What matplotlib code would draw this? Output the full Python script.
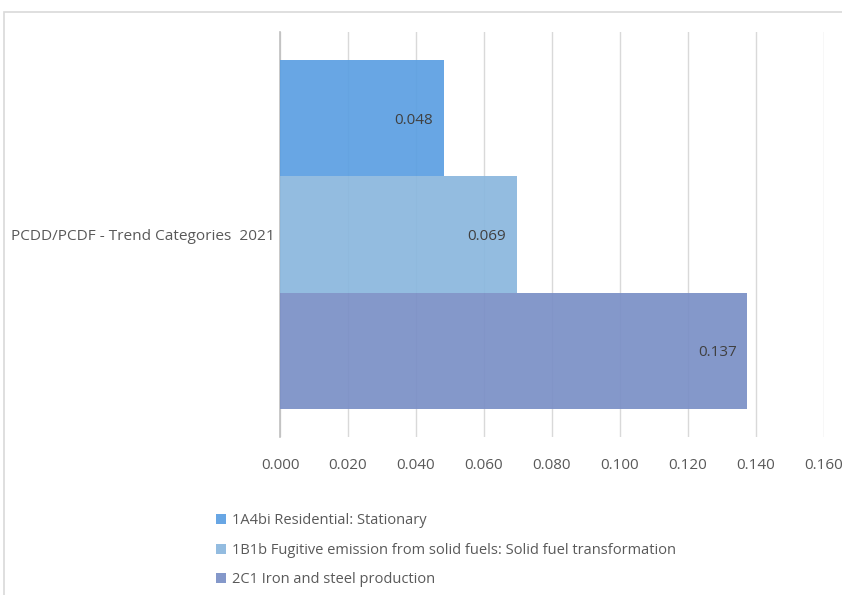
import matplotlib.pyplot as plt
from matplotlib.patches import Rectangle

# PCDD/PCDF trend categories, 2021
category = "PCDD/PCDF - Trend Categories  2021"
series = [
    "1A4bi Residential: Stationary",
    "1B1b Fugitive emission from solid fuels: Solid fuel transformation",
    "2C1 Iron and steel production",
]
values = [0.0483, 0.0697, 0.1376]
value_labels = ["0.048", "0.069", "0.137"]
colors = ["#5B9FE2", "#8AB7DE", "#7A8FC6"]
xticks = [0.000, 0.020, 0.040, 0.060, 0.080, 0.100, 0.120, 0.140, 0.160]

text_color = "#595959"
plt.rcParams["font.family"] = ["Open Sans", "DejaVu Sans"]

fig = plt.figure(figsize=(8.42, 5.95), dpi=100)

# chart frame
fig.patches.append(Rectangle((4 / 842, -0.1), 1.2, 1 - 12 / 595 + 0.1,
                             transform=fig.transFigure, fill=False,
                             edgecolor="#D9D9D9", linewidth=1.2))

ax = fig.add_axes([280 / 842, 1 - 437 / 595, (823.5 - 280) / 842, (437 - 32) / 595])

group = 0.86
h = group / len(values)
handles = []
for i, (name, v, lab, c) in enumerate(zip(series, values, value_labels, colors)):
    y = group / 2 - h / 2 - i * h
    b = ax.barh(y, v, height=h, color=c, alpha=0.92, label=name, zorder=3)
    handles.append(b)
    ax.text(v - 0.0032, y - 0.005, lab, ha="right", va="center",
            color="#404040", fontsize=11, zorder=4)

ax.set_xlim(0, 0.160)
ax.set_ylim(-0.5, 0.5)
ax.set_xticks(xticks)
ax.set_xticklabels([f"{t:.3f}" for t in xticks], color=text_color, fontsize=11)
ax.set_yticks([0])
ax.set_yticklabels([category], color=text_color, fontsize=11.05)
ax.tick_params(axis="x", length=0, pad=15)
ax.tick_params(axis="y", length=0, pad=4)
ax.grid(axis="x", color="#D9D9D9", linewidth=1, zorder=0)
for s in ["top", "right", "bottom"]:
    ax.spines[s].set_visible(False)
ax.spines["left"].set_color("#BFBFBF")
ax.spines["left"].set_linewidth(1.2)

fig.legend(handles=handles, labels=series, loc="upper left",
           bbox_to_anchor=(203 / 842, 1 - 500 / 595), frameon=False,
           fontsize=10.55, labelcolor=text_color, handlelength=0.7,
           handleheight=0.7, handletextpad=0.4, labelspacing=1.0)

fig.savefig("out.png", dpi=100)
